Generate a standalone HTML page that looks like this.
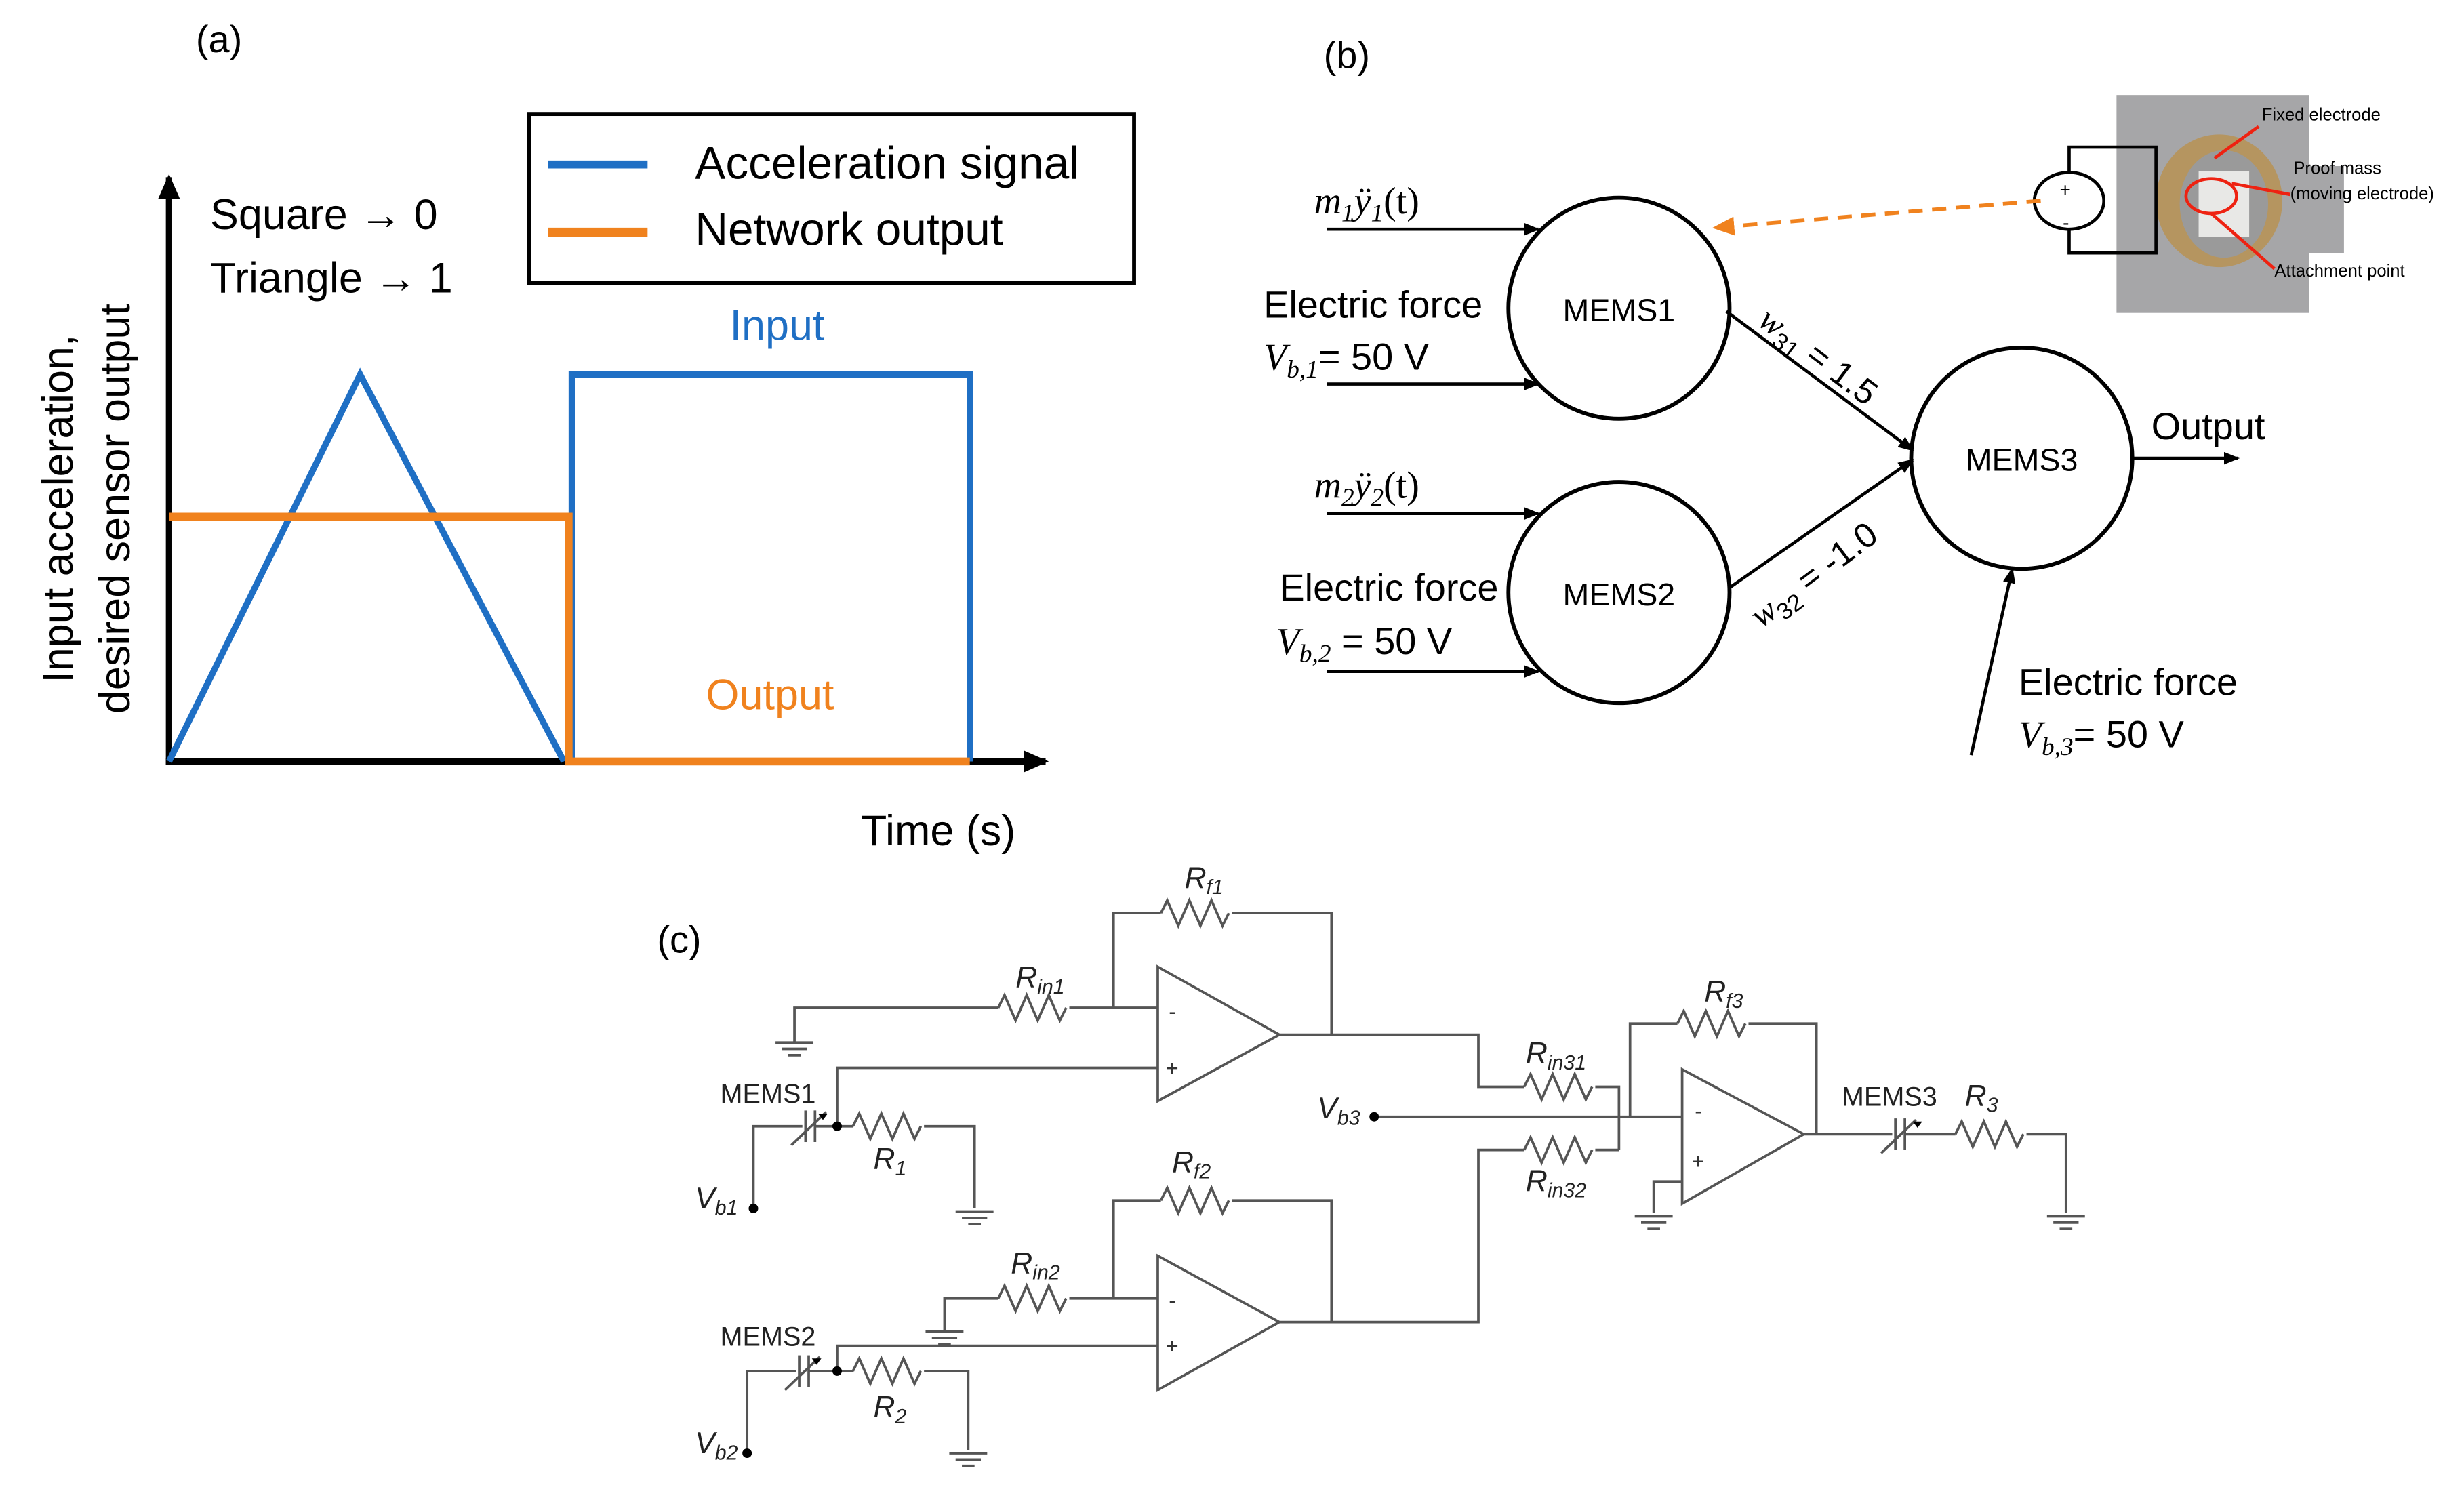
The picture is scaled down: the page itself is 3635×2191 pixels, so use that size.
<!DOCTYPE html>
<html><head><meta charset="utf-8"><style>
html,body{margin:0;padding:0;background:#fff;}
svg{display:block;}
text{font-family:"Liberation Sans",sans-serif;}
.s{font-family:"Liberation Serif",serif;font-style:italic;}
</style></head><body>
<svg width="3635" height="2191" viewBox="0 0 1560 940" xmlns="http://www.w3.org/2000/svg">
<defs>
<marker id="ah" markerWidth="10" markerHeight="10" refX="9" refY="5" orient="auto" markerUnits="userSpaceOnUse"><path d="M0,1 L10,5 L0,9 Z" fill="#000"/></marker>
<marker id="ab" markerWidth="16" markerHeight="16" refX="14" refY="8" orient="auto" markerUnits="userSpaceOnUse"><path d="M0,1 L16,8 L0,15 Z" fill="#000"/></marker>
<marker id="ao" markerWidth="14" markerHeight="14" refX="12" refY="7" orient="auto" markerUnits="userSpaceOnUse"><path d="M0,1 L14,7 L0,13 Z" fill="#f0821e"/></marker>
</defs>
<rect width="1560" height="940" fill="#fff"/>

<!-- Panel (a) -->
<text x="124" y="33" font-size="24" font-family="Liberation Serif">(a)</text>
<line x1="107" y1="484" x2="107" y2="112" stroke="#000" stroke-width="4" marker-end="url(#ab)"/>
<line x1="105" y1="482" x2="662" y2="482" stroke="#000" stroke-width="4" marker-end="url(#ab)"/>
<polyline points="107,482 228,237 357,482" fill="none" stroke="#1f6fc4" stroke-width="4"/>
<polyline points="362,482 362,237 614,237 614,482" fill="none" stroke="#1f6fc4" stroke-width="4"/>
<polyline points="107,327 360,327 360,482 614,482" fill="none" stroke="#f0821e" stroke-width="5"/>
<rect x="335" y="72" width="383" height="107" fill="#fff" stroke="#000" stroke-width="2.5"/>
<line x1="347" y1="104" x2="410" y2="104" stroke="#1f6fc4" stroke-width="5"/>
<line x1="347" y1="147" x2="410" y2="147" stroke="#f0821e" stroke-width="6"/>
<text x="440" y="113" font-size="29">Acceleration signal</text>
<text x="440" y="155" font-size="29">Network output</text>
<text x="133" y="145" font-size="27">Square → 0</text>
<text x="133" y="185" font-size="27">Triangle → 1</text>
<text x="462" y="215" font-size="27" fill="#1f6fc4">Input</text>
<text x="447" y="449" font-size="27" fill="#f0821e">Output</text>
<text x="545" y="535" font-size="27">Time (s)</text>
<text transform="translate(46,322) rotate(-90)" text-anchor="middle" font-size="27">Input acceleration,</text>
<text transform="translate(82,322) rotate(-90)" text-anchor="middle" font-size="27">desired sensor output</text>

<!-- Panel (b) -->
<text x="838" y="43" font-size="24" font-family="Liberation Serif">(b)</text>
<rect x="1340" y="60" width="122" height="138" fill="#a6a6a8"/>
<rect x="1462" y="105" width="22" height="55" fill="#a6a6a8"/>
<ellipse cx="1405" cy="127" rx="40" ry="42" fill="#b59560"/>
<ellipse cx="1408" cy="129" rx="28" ry="34" fill="#9a9a9a"/>
<rect x="1392" y="108" width="32" height="42" fill="#e8e8e6"/>
<ellipse cx="1400" cy="124" rx="16" ry="11" fill="none" stroke="#e21" stroke-width="2"/>
<line x1="1402" y1="100" x2="1430" y2="80" stroke="#e21" stroke-width="2"/>
<line x1="1413" y1="116" x2="1450" y2="123" stroke="#e21" stroke-width="2"/>
<line x1="1400" y1="135" x2="1440" y2="170" stroke="#e21" stroke-width="2"/>
<text x="1432" y="76" font-size="11" font-family="Liberation Serif">Fixed electrode</text>
<text x="1452" y="110" font-size="11" font-family="Liberation Serif">Proof mass</text>
<text x="1450" y="126" font-size="11" font-family="Liberation Serif">(moving electrode)</text>
<text x="1440" y="175" font-size="11" font-family="Liberation Serif">Attachment point</text>
<polyline points="1310,110 1310,93 1365,93 1365,160 1310,160 1310,144" fill="none" stroke="#000" stroke-width="2"/>
<ellipse cx="1310" cy="127" rx="22" ry="18" fill="#fff" stroke="#000" stroke-width="2"/>
<text x="1304" y="124" font-size="12">+</text>
<text x="1306" y="145" font-size="12">-</text>
<line x1="1292" y1="127" x2="1086" y2="144" stroke="#f0821e" stroke-width="2.5" stroke-dasharray="9,6" marker-end="url(#ao)"/>

<circle cx="1025" cy="195" r="70" fill="none" stroke="#000" stroke-width="2.5"/>
<circle cx="1025" cy="375" r="70" fill="none" stroke="#000" stroke-width="2.5"/>
<circle cx="1280" cy="290" r="70" fill="none" stroke="#000" stroke-width="2.5"/>
<text x="1025" y="203" font-size="20" text-anchor="middle">MEMS1</text>
<text x="1025" y="383" font-size="20" text-anchor="middle">MEMS2</text>
<text x="1280" y="298" font-size="20" text-anchor="middle">MEMS3</text>
<g stroke="#000" stroke-width="2">
<line x1="840" y1="145" x2="974" y2="145" marker-end="url(#ah)"/>
<line x1="840" y1="243" x2="974" y2="243" marker-end="url(#ah)"/>
<line x1="840" y1="325" x2="974" y2="325" marker-end="url(#ah)"/>
<line x1="840" y1="425" x2="974" y2="425" marker-end="url(#ah)"/>
<line x1="1093" y1="197" x2="1211" y2="285" marker-end="url(#ah)"/>
<line x1="1095" y1="372" x2="1211" y2="291" marker-end="url(#ah)"/>
<line x1="1350" y1="290" x2="1417" y2="290" marker-end="url(#ah)"/>
<line x1="1248" y1="478" x2="1274" y2="360" marker-end="url(#ah)"/>
</g>
<text x="832" y="135" font-size="24" class="s">m<tspan font-size="16" dy="5">1</tspan><tspan dy="-5">ÿ</tspan><tspan font-size="16" dy="5">1</tspan><tspan dy="-5" font-style="normal">(t)</tspan></text>
<text x="832" y="315" font-size="24" class="s">m<tspan font-size="16" dy="5">2</tspan><tspan dy="-5">ÿ</tspan><tspan font-size="16" dy="5">2</tspan><tspan dy="-5" font-style="normal">(t)</tspan></text>
<text x="800" y="201" font-size="24">Electric force</text>
<text x="800" y="234" font-size="24"><tspan class="s">V</tspan><tspan font-size="16" dy="5" class="s">b,1</tspan><tspan dy="-5">= 50 V</tspan></text>
<text x="810" y="380" font-size="24">Electric force</text>
<text x="808" y="414" font-size="24"><tspan class="s">V</tspan><tspan font-size="16" dy="5" class="s">b,2</tspan><tspan dy="-5"> = 50 V</tspan></text>
<text x="1278" y="440" font-size="24">Electric force</text>
<text x="1278" y="473" font-size="24"><tspan class="s">V</tspan><tspan font-size="16" dy="5" class="s">b,3</tspan><tspan dy="-5">= 50 V</tspan></text>
<text x="1362" y="278" font-size="24">Output</text>
<text transform="translate(1112,205) rotate(37)" font-size="22"><tspan class="s">w</tspan><tspan font-size="15" dy="5">31</tspan><tspan dy="-5"> = 1.5</tspan></text>
<text transform="translate(1115,398) rotate(-37)" font-size="22"><tspan class="s">w</tspan><tspan font-size="15" dy="5">32</tspan><tspan dy="-5"> = -1.0</tspan></text>

<!-- Panel (c) -->
<text x="416" y="603" font-size="24">(c)</text>
<g fill="none" stroke="#555" stroke-width="1.6">
<!-- op amps -->
<polygon points="733,612 733,697 810,655"/>
<polygon points="733,795 733,880 810,837"/>
<polygon points="1065,677 1065,762 1142,718"/>
<!-- amp1 -->
<polyline points="503,660 503,638 632,638"/>
<path d="M632,638 l4,-8 l7,16 l7,-16 l7,16 l7,-16 l7,16 l4,-8"/>
<polyline points="677,638 733,638"/>
<polyline points="705,638 705,578 735,578"/>
<path d="M735,578 l4,-8 l7,16 l7,-16 l7,16 l7,-16 l7,16 l4,-8"/>
<polyline points="780,578 843,578 843,655"/>
<polyline points="530,713 530,676 733,676"/>
<polyline points="477,765 477,713 508,713"/>
<line x1="510" y1="703" x2="510" y2="723"/><line x1="516" y1="703" x2="516" y2="723"/>
<line x1="501" y1="725" x2="523" y2="704"/>
<polyline points="516,713 540,713"/>
<path d="M540,713 l4,-8 l7,16 l7,-16 l7,16 l7,-16 l7,16 l4,-8"/>
<polyline points="585,713 617,713 617,765"/>
<!-- amp2 -->
<polyline points="598,842 598,822 632,822"/>
<path d="M632,822 l4,-8 l7,16 l7,-16 l7,16 l7,-16 l7,16 l4,-8"/>
<polyline points="677,822 733,822"/>
<polyline points="705,822 705,760 735,760"/>
<path d="M735,760 l4,-8 l7,16 l7,-16 l7,16 l7,-16 l7,16 l4,-8"/>
<polyline points="780,760 843,760 843,837"/>
<polyline points="530,868 530,852 733,852"/>
<polyline points="473,920 473,868 504,868"/>
<line x1="506" y1="858" x2="506" y2="878"/><line x1="512" y1="858" x2="512" y2="878"/>
<line x1="497" y1="880" x2="519" y2="859"/>
<polyline points="512,868 540,868"/>
<path d="M540,868 l4,-8 l7,16 l7,-16 l7,16 l7,-16 l7,16 l4,-8"/>
<polyline points="585,868 613,868 613,918"/>
<!-- amp3 inputs -->
<polyline points="810,655 936,655 936,688 965,688"/>
<path d="M965,688 l4,-8 l7,16 l7,-16 l7,16 l7,-16 l7,16 l4,-8"/>
<polyline points="1010,688 1025,688 1025,728"/>
<polyline points="810,837 936,837 936,728 965,728"/>
<path d="M965,728 l4,-8 l7,16 l7,-16 l7,16 l7,-16 l7,16 l4,-8"/>
<polyline points="1010,728 1025,728"/>
<polyline points="870,707 1065,707"/>
<polyline points="1032,707 1032,648 1062,648"/>
<path d="M1062,648 l4,-8 l7,16 l7,-16 l7,16 l7,-16 l7,16 l4,-8"/>
<polyline points="1107,648 1150,648 1150,718"/>
<polyline points="1047,768 1047,748 1065,748"/>
<polyline points="1142,718 1198,718"/>
<line x1="1200" y1="708" x2="1200" y2="728"/><line x1="1206" y1="708" x2="1206" y2="728"/>
<line x1="1191" y1="730" x2="1213" y2="709"/>
<polyline points="1206,718 1238,718"/>
<path d="M1238,718 l4,-8 l7,16 l7,-16 l7,16 l7,-16 l7,16 l4,-8"/>
<polyline points="1283,718 1308,718 1308,768"/>
</g>
<!-- grounds -->
<g stroke="#555" stroke-width="1.6">
<path d="M491,660h24M495,664h16M499,668h8"/>
<path d="M605,767h24M609,771h16M613,775h8"/>
<path d="M586,843h24M590,847h16M594,851h8"/>
<path d="M601,920h24M605,924h16M609,928h8"/>
<path d="M1035,770h24M1039,774h16M1043,778h8"/>
<path d="M1296,770h24M1300,774h16M1304,778h8"/>
</g>
<g fill="#000">
<circle cx="530" cy="713" r="3"/><circle cx="477" cy="765" r="3"/>
<circle cx="530" cy="868" r="3"/><circle cx="473" cy="920" r="3"/>
<circle cx="870" cy="707" r="3"/>
<path d="M518,705h6l-3,4z"/><path d="M514,860h6l-3,4z"/><path d="M1211,710h6l-3,4z"/>
</g>
<g font-size="14" fill="#333">
<text x="740" y="645">-</text><text x="738" y="681">+</text>
<text x="740" y="828">-</text><text x="738" y="857">+</text>
<text x="1073" y="708">-</text><text x="1071" y="740">+</text>
</g>
<g font-size="17" fill="#222">
<text x="456" y="698">MEMS1</text>
<text x="456" y="852">MEMS2</text>
<text x="1166" y="700">MEMS3</text>
</g>
<g font-size="19" class="s" fill="#222">
<text x="750" y="562">R<tspan font-size="13" dy="4">f1</tspan></text>
<text x="643" y="625">R<tspan font-size="13" dy="4">in1</tspan></text>
<text x="553" y="740">R<tspan font-size="13" dy="4">1</tspan></text>
<text x="440" y="765">V<tspan font-size="13" dy="4">b1</tspan></text>
<text x="742" y="742">R<tspan font-size="13" dy="4">f2</tspan></text>
<text x="640" y="806">R<tspan font-size="13" dy="4">in2</tspan></text>
<text x="553" y="897">R<tspan font-size="13" dy="4">2</tspan></text>
<text x="440" y="920">V<tspan font-size="13" dy="4">b2</tspan></text>
<text x="834" y="708">V<tspan font-size="13" dy="4">b3</tspan></text>
<text x="966" y="673">R<tspan font-size="13" dy="4">in31</tspan></text>
<text x="966" y="754">R<tspan font-size="13" dy="4">in32</tspan></text>
<text x="1079" y="634">R<tspan font-size="13" dy="4">f3</tspan></text>
<text x="1244" y="700">R<tspan font-size="13" dy="4">3</tspan></text>
</g>
</svg>
</body></html>
